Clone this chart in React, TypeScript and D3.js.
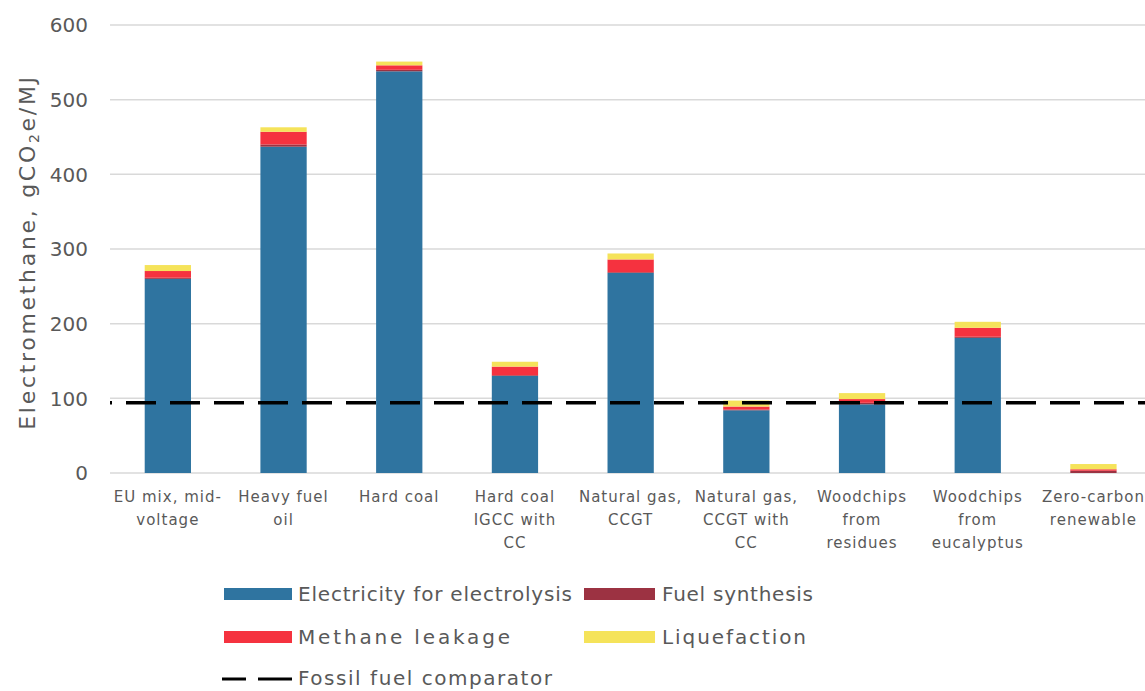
import React from "react";
import * as d3 from "d3";

const categories = [
  "EU mix, mid-voltage",
  "Heavy fuel oil",
  "Hard coal",
  "Hard coal IGCC with CC",
  "Natural gas, CCGT",
  "Natural gas, CCGT with CC",
  "Woodchips from residues",
  "Woodchips from eucalyptus",
  "Zero-carbon renewable",
];
const categoryLines = [
  ["EU mix, mid-", "voltage"],
  ["Heavy fuel", "oil"],
  ["Hard coal"],
  ["Hard coal", "IGCC with", "CC"],
  ["Natural gas,", "CCGT"],
  ["Natural gas,", "CCGT with", "CC"],
  ["Woodchips", "from", "residues"],
  ["Woodchips", "from", "eucalyptus"],
  ["Zero-carbon", "renewable"],
];
const electricity = [260, 437, 538, 130, 268, 84, 92, 181, 0];
const fuelSynthesis = [1.5, 3, 2, 1, 1, 1, 2, 1.5, 3];
const methaneLeakage = [9, 17, 6, 11.5, 17, 4, 5, 12, 2];
const liquefaction = [8, 6, 5, 6.5, 8, 8, 8, 8, 7];
const fossilComparator = 94;
const yTicks = [0, 100, 200, 300, 400, 500, 600];

const seriesNames = [
  "Electricity for electrolysis",
  "Fuel synthesis",
  "Methane leakage",
  "Liquefaction",
];
const seriesColors = ["#2f74a0", "#9c3242", "#f5323f", "#f5e35a"];

const FONT = "'DejaVu Sans', sans-serif";
const GREY = "#595959";

export default function App() {
  const rows = categories.map((c, i) => ({
    cat: c,
    s0: electricity[i],
    s1: fuelSynthesis[i],
    s2: methaneLeakage[i],
    s3: liquefaction[i],
  }));
  const stack = d3.stack<any>().keys(["s0", "s1", "s2", "s3"]);
  const stacked = stack(rows);

  const plotLeft = 110;
  const step = 115.7;
  const x = d3
    .scaleBand<string>()
    .domain(categories)
    .range([plotLeft, plotLeft + step * categories.length])
    .padding(0);
  const barW = x.bandwidth() * 0.4;
  const y = d3.scaleLinear().domain([0, 600]).range([473, 25]);

  const legendLen = [274, 151, 212, 144];

  return (
    <svg
      width={1145}
      height={691}
      style={{ position: "absolute", left: 0, top: 0, background: "#fff" }}
      fontFamily={FONT}
    >
      <rect x={0} y={0} width={1145} height={691} fill="#fff" />
      {/* gridlines */}
      {yTicks.map((t) => (
        <line
          key={t}
          x1={plotLeft}
          x2={1145}
          y1={y(t)}
          y2={y(t)}
          stroke="#d9d9d9"
          strokeWidth={1.5}
        />
      ))}
      {/* y tick labels */}
      {yTicks.map((t) => (
        <text
          key={"l" + t}
          x={88}
          y={y(t)}
          dy="0.36em"
          textAnchor="end"
          fontSize={20}
          fill={GREY}
        >
          {t}
        </text>
      ))}
      {/* y axis title */}
      <text
        transform={`translate(35,${(y(0) + y(600)) / 2 + 3}) rotate(-90)`}
        textAnchor="middle"
        fontSize={22}
        letterSpacing={2.7}
        fill={GREY}
      >
        Electromethane, gCO
        <tspan fontSize={14} dy={4}>2</tspan>
        <tspan dy={-4}>e/MJ</tspan>
      </text>
      {/* bars */}
      {stacked.map((s, si) => (
        <g key={si} fill={seriesColors[si]}>
          {s.map((d, i) => {
            const h = y(d[0]) - y(d[1]);
            if (h <= 0) return null;
            return (
              <rect
                key={i}
                x={(x(categories[i]) as number) + (x.bandwidth() - barW) / 2}
                y={y(d[1])}
                width={barW}
                height={h}
              />
            );
          })}
        </g>
      ))}
      {/* fossil comparator */}
      <line
        x1={plotLeft}
        x2={1145}
        y1={y(fossilComparator)}
        y2={y(fossilComparator)}
        stroke="#000"
        strokeWidth={3.5}
        strokeDasharray="30,14"
        strokeDashoffset={28}
      />
      {/* x labels */}
      {categoryLines.map((lines, i) => (
        <text
          key={"x" + i}
          x={(x(categories[i]) as number) + x.bandwidth() / 2}
          y={502}
          textAnchor="middle"
          fontSize={15}
          letterSpacing={1}
          fill={GREY}
        >
          {lines.map((ln, j) => (
            <tspan key={j} x={(x(categories[i]) as number) + x.bandwidth() / 2} dy={j === 0 ? 0 : 23}>
              {ln}
            </tspan>
          ))}
        </text>
      ))}
      {/* legend */}
      {seriesNames.map((n, i) => {
        const col = i % 2;
        const row = Math.floor(i / 2);
        const lx = col === 0 ? 224 : 584;
        const ly = 594 + row * 43;
        return (
          <g key={n}>
            <rect x={lx} y={ly - 6} width={col === 0 ? 68 : 71} height={12} fill={seriesColors[i]} />
            <text
              x={lx + (col === 0 ? 74 : 78)}
              y={ly}
              dy="0.36em"
              fontSize={20}
              fill={GREY}
              textLength={legendLen[i]}
              lengthAdjust="spacing"
            >
              {n}
            </text>
          </g>
        );
      })}
      <line
        x1={222}
        x2={292}
        y1={679}
        y2={679}
        stroke="#000"
        strokeWidth={3}
        strokeDasharray="24,12,40"
      />
      <text
        x={298}
        y={679}
        dy="0.3em"
        fontSize={20}
        fill={GREY}
        textLength={254}
        lengthAdjust="spacing"
      >
        Fossil fuel comparator
      </text>
    </svg>
  );
}
